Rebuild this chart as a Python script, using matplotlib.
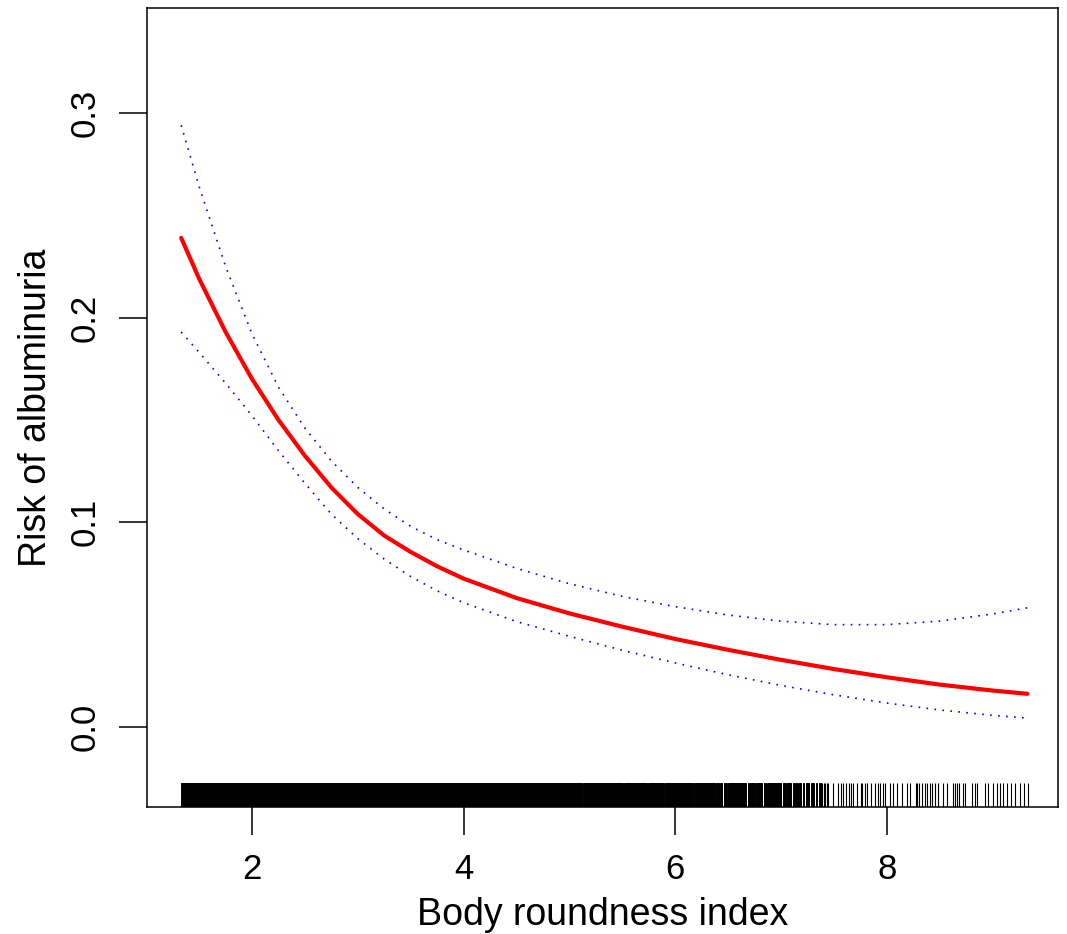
import matplotlib
matplotlib.use("Agg")
import matplotlib.pyplot as plt

plt.rcParams["font.family"] = ["Liberation Sans", "DejaVu Sans"]

# Fitted curve and 95% CI
bri = [1.33, 1.5, 1.75, 2.0, 2.25, 2.5, 2.75, 3.0, 3.25, 3.5, 3.75, 4.0, 4.5,
       5.0, 5.5, 6.0, 6.5, 7.0, 7.5, 8.0, 8.5, 9.0, 9.33]
risk = [0.239, 0.219, 0.193, 0.170, 0.150, 0.1325, 0.117, 0.104, 0.0935,
        0.0855, 0.0785, 0.0725, 0.0630, 0.0555, 0.049, 0.043, 0.0377, 0.0328,
        0.0283, 0.0243, 0.0207, 0.0178, 0.0162]
upper = [0.294, 0.264, 0.225, 0.192, 0.166, 0.146, 0.130, 0.117, 0.1065,
         0.098, 0.0915, 0.0865, 0.0775, 0.0700, 0.0638, 0.0588, 0.0547,
         0.0517, 0.0500, 0.0500, 0.0517, 0.0552, 0.0582]
lower = [0.193, 0.183, 0.168, 0.152, 0.135, 0.119, 0.104, 0.092, 0.082,
         0.0735, 0.0665, 0.0607, 0.0515, 0.0443, 0.0375, 0.0313, 0.0255,
         0.0203, 0.0157, 0.0117, 0.0083, 0.0057, 0.0043]

# Rug: solid stretches where observations overlap, then single ticks
rug_spans = [(1.329, 5.121), (5.130, 5.508), (5.518, 5.735), (5.745, 5.896),
             (5.905, 6.170), (6.180, 6.378), (6.388, 6.417), (6.426, 6.444),
             (6.459, 6.492), (6.501, 6.671), (6.686, 6.752), (6.766, 6.823),
             (6.837, 6.856), (6.870, 7.002), (7.021, 7.045), (7.059, 7.097),
             (7.116, 7.130), (7.144, 7.158), (7.173, 7.191), (7.210, 7.220),
             (7.239, 7.267), (7.286, 7.314), (7.333, 7.343), (7.362, 7.381)]
rug_ticks = [7.390, 7.404, 7.418, 7.433, 7.447, 7.494, 7.537, 7.570, 7.584,
             7.617, 7.641, 7.664, 7.683, 7.721, 7.754, 7.768, 7.797, 7.811,
             7.853, 7.887, 7.920, 7.934, 7.967, 7.981, 8.028, 8.061, 8.099,
             8.147, 8.194, 8.222, 8.274, 8.288, 8.307, 8.336, 8.364, 8.383,
             8.411, 8.430, 8.459, 8.487, 8.534, 8.572, 8.629, 8.648, 8.667,
             8.681, 8.723, 8.742, 8.809, 8.837, 8.856, 8.931, 8.960, 9.007,
             9.045, 9.073, 9.102, 9.139, 9.177, 9.215, 9.262, 9.300, 9.338]

fig = plt.figure(figsize=(10.67, 9.34), dpi=100)
ax = fig.add_axes([0.1378, 0.136, 0.8538, 0.8554])

ax.plot(bri, upper, color="blue", lw=1.2, linestyle=(0, (1, 3.8)))
ax.plot(bri, lower, color="blue", lw=1.2, linestyle=(0, (1, 3.8)))
ax.plot(bri, risk, color="red", lw=3, solid_capstyle="round",
        solid_joinstyle="round")

rug_h = 0.03
for a, b in rug_spans:
    ax.axvspan(a, b, ymin=0, ymax=rug_h, color="black", lw=0.7)
ax.vlines(rug_ticks, 0, rug_h, transform=ax.get_xaxis_transform(),
          color="black", lw=0.8)

ax.set_xlim(1.007, 9.62)
ax.set_ylim(-0.0391, 0.3513)
ax.set_xticks([2, 4, 6, 8])
ax.set_yticks([0.0, 0.1, 0.2, 0.3])
ax.set_xticklabels(["2", "4", "6", "8"])
ax.set_yticklabels(["0.0", "0.1", "0.2", "0.3"], rotation=90, va="center")
ax.tick_params(direction="out", length=20, width=1.1, labelsize=25, pad=13)

for s in ax.spines.values():
    s.set_linewidth(1.1)

ax.set_xlabel("Body roundness index", fontsize=27, labelpad=8)
ax.set_ylabel("Risk of albuminuria", fontsize=27, labelpad=10)

fig.savefig("out.png", dpi=100)
